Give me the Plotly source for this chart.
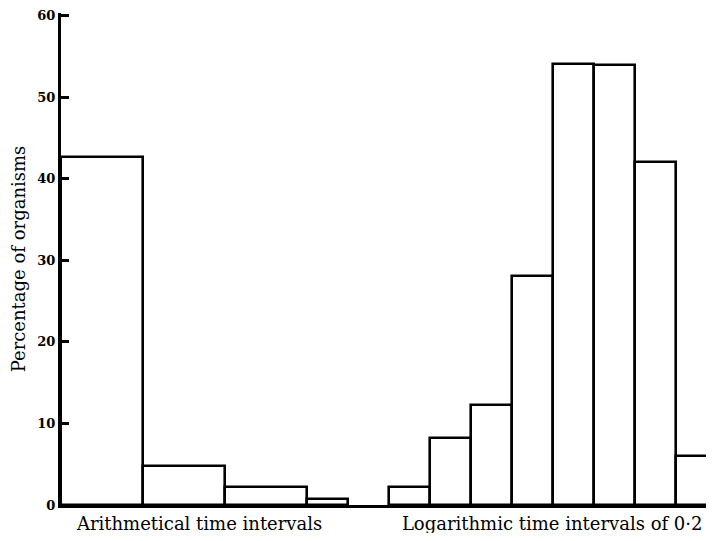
import plotly.graph_objects as go

# Data (x in units of one arithmetical interval)
left_edges = [0, 1, 2, 3, 3.5]
left_pct = [42.7, 4.8, 2.2, 0.7]
right_edges = [4.0, 4.5, 5.0, 5.5, 6.0, 6.5, 7.0, 7.5, 8.0]
right_pct = [2.2, 8.2, 12.2, 28.1, 54.0, 53.9, 42.0, 6.0]
group_labels = ["Arithmetical time intervals", "Logarithmic time intervals of 0·2"]
group_label_pos = [1.69, 5.99]
y_ticks = [0, 10, 20, 30, 40, 50, 60]

def bins(edges, vals):
    xs = [(edges[i] + edges[i + 1]) / 2 for i in range(len(vals))]
    ws = [edges[i + 1] - edges[i] for i in range(len(vals))]
    return xs, ws

lx, lw = bins(left_edges, left_pct)
rx, rw = bins(right_edges, right_pct)

fig = go.Figure()
fig.add_trace(go.Bar(
    x=lx + rx, y=left_pct + right_pct, width=lw + rw,
    marker=dict(color="white", line=dict(color="black", width=2.6)),
    showlegend=False,
))

serif = "DejaVu Serif"
fig.update_layout(
    width=698, height=525,
    margin=dict(l=53, r=0, t=5, b=28),
    plot_bgcolor="white", paper_bgcolor="white",
    bargap=0,
    xaxis=dict(
        range=[0, 645 / 82], showline=True, linewidth=3, linecolor="black",
        showgrid=False, zeroline=False, ticks="", automargin=False,
        tickvals=group_label_pos, ticktext=group_labels,
        tickfont=dict(family=serif, size=18, color="black"),
    ),
    yaxis=dict(
        range=[0, 60.3], showline=True, linewidth=3, linecolor="black",
        showgrid=False, zeroline=False, automargin=False,
        ticks="inside", ticklen=8, tickwidth=2.5, tickcolor="black",
        tickvals=y_ticks,
        tickfont=dict(family=serif, size=13, color="black", weight="bold"),
        title=dict(text="Percentage of organisms", standoff=9,
                   font=dict(family=serif, size=18, color="black")),
    ),
)

fig.write_html("out.html")
